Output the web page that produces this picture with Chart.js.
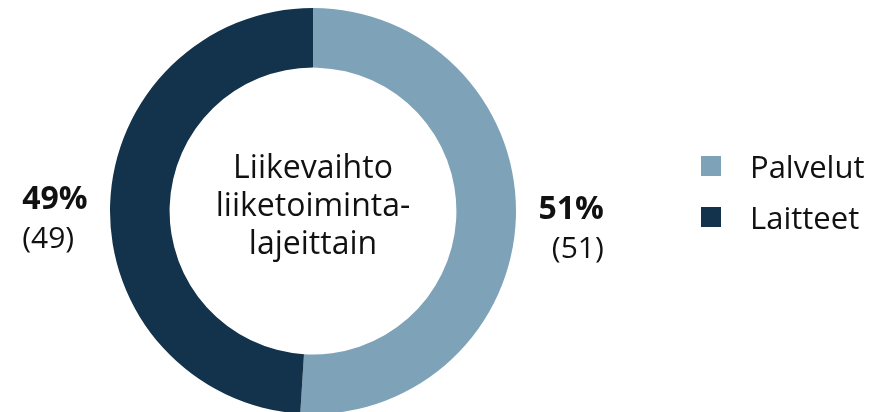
<!DOCTYPE html>
<html>
<head>
<meta charset="utf-8">
<script src="https://cdn.jsdelivr.net/npm/chart.js@4"></script>
<style>
  html, body { margin: 0; padding: 0; background: #ffffff; }
  #wrap { width: 884px; height: 412px; position: relative; }
</style>
</head>
<body>
<div id="wrap"><canvas id="c" width="884" height="412"></canvas></div>
<script>
const categories = ['Palvelut', 'Laitteet'];
const shares = [51, 49];
const previousShares = [51, 49];
const centerTitle = ['Liikevaihto', 'liiketoiminta-', 'lajeittain'];
const colors = ['#7ea2b7', '#12334b'];

const FONT = '"Open Sans", "Noto Sans", sans-serif';

const labelPlugin = {
  id: 'labels',
  afterDatasetsDraw(chart) {
    const ctx = chart.ctx;
    const meta = chart.getDatasetMeta(0);
    const first = meta.data[0];
    const cx = first.x, cy = first.y;
    ctx.save();
    ctx.fillStyle = '#111111';
    ctx.textBaseline = 'alphabetic';
    // center title
    ctx.textAlign = 'center';
    ctx.font = '400 32px ' + FONT;
    const lh = 38;
    centerTitle.forEach((t, i) => {
      ctx.fillText(t, cx, cy + 5 + (i - 1) * lh);
    });
    // outside labels
    meta.data.forEach((arc, i) => {
      const p = arc.getProps(['startAngle', 'endAngle', 'outerRadius'], true);
      const mid = (p.startAngle + p.endAngle) / 2;
      const rx = p.outerRadius + 88;
      const ry = p.outerRadius - 30;
      const x = cx + Math.cos(mid) * rx;
      const y = cy + Math.sin(mid) * ry;
      ctx.textAlign = Math.cos(mid) < 0 ? 'left' : 'right';
      ctx.font = '700 32px ' + FONT;
      ctx.fillText(shares[i] + '%', x, y + 3);
      ctx.font = '400 30px ' + FONT;
      ctx.fillText('(' + previousShares[i] + ')', x, y + 42);
    });
    // legend
    ctx.textAlign = 'left';
    ctx.font = '400 31px ' + FONT;
    categories.forEach((c, i) => {
      const y0 = 156 + i * 51;
      ctx.fillStyle = colors[i];
      ctx.fillRect(701, y0, 20, 20);
      ctx.fillStyle = '#111111';
      ctx.fillText(c, 750, y0 + 22);
    });
    ctx.restore();
  }
};

new Chart(document.getElementById('c'), {
  type: 'doughnut',
  data: {
    labels: categories,
    datasets: [{
      data: shares,
      backgroundColor: colors,
      borderWidth: 0,
      hoverOffset: 0
    }]
  },
  options: {
    responsive: false,
    devicePixelRatio: 1,
    animation: false,
    radius: 203,
    cutout: 142,
    rotation: 0,
    layout: { padding: { left: 110, right: 368, top: 10, bottom: 0 } },
    plugins: {
      legend: { display: false },
      tooltip: { enabled: false }
    },
    events: []
  },
  plugins: [labelPlugin]
});
</script>
</body>
</html>
